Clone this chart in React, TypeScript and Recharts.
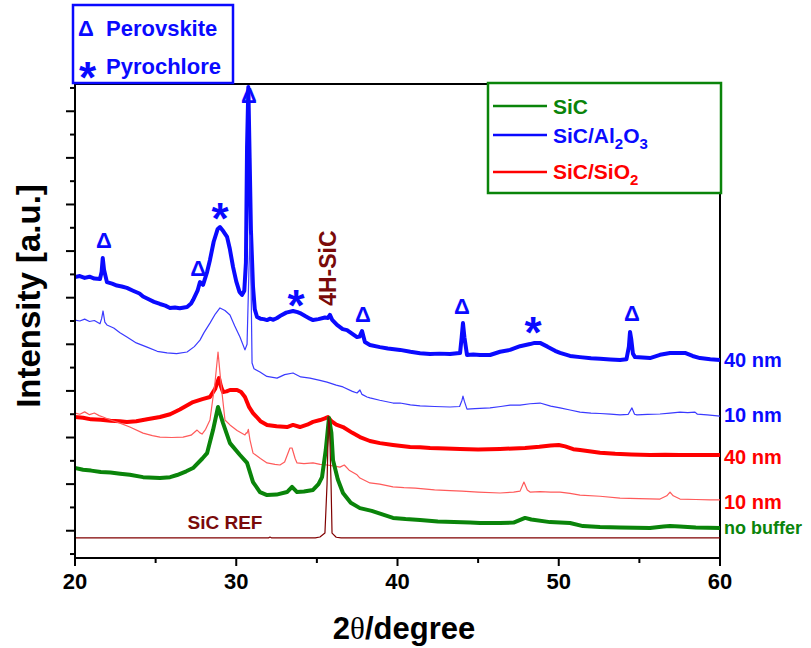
import React from "react";
import { LineChart, Line, XAxis, YAxis, ReferenceDot, ReferenceArea } from "recharts";

type Pt = [number, number];

// 2θ (degree) vs intensity (a.u., stacked offsets)
const AL2O3_40NM: Pt[] = [
  [20.0, 11.89], [20.3, 11.93], [20.6, 11.85], [20.9, 11.9], [21.2, 11.82], [21.55, 11.8], [21.65, 12.1],
  [21.72, 12.7], [21.8, 12.2], [21.98, 11.67], [22.3, 11.6], [22.6, 11.52], [22.9, 11.48], [23.22, 11.42],
  [23.6, 11.3], [24.0, 11.18], [24.22, 11.05], [24.6, 10.92], [24.9, 10.82], [25.27, 10.73], [25.6, 10.66],
  [25.89, 10.56], [26.2, 10.58], [26.5, 10.55], [26.95, 10.6], [27.2, 10.75], [27.32, 10.9], [27.6, 11.3],
  [27.75, 11.67], [27.85, 11.62], [27.94, 11.55], [28.19, 12.1], [28.37, 12.62], [28.6, 13.4], [28.85, 13.95],
  [28.99, 14.03], [29.2, 13.85], [29.43, 13.61], [29.6, 13.1], [29.8, 12.32], [30.0, 11.7], [30.2, 11.25],
  [30.36, 11.12], [30.5, 11.3], [30.6, 12.5], [30.67, 17.47], [30.75, 20.04], [30.83, 17.0], [30.91, 13.91],
  [31.04, 11.46], [31.15, 10.5], [31.29, 10.17], [31.5, 10.1], [31.7, 10.08], [31.91, 10.04], [32.1, 10.1],
  [32.3, 10.05], [32.53, 10.13], [32.8, 10.25], [33.1, 10.36], [33.52, 10.43], [33.8, 10.38], [33.95, 10.34],
  [34.3, 10.2], [34.57, 10.1], [34.76, 10.04], [35.1, 10.08], [35.5, 10.15], [35.69, 10.13], [35.81, 10.26],
  [35.95, 10.05], [36.25, 9.83], [36.6, 9.65], [36.87, 9.61], [37.2, 9.45], [37.49, 9.31], [37.65, 9.33],
  [37.8, 9.57], [37.9, 9.3], [37.98, 9.1], [38.29, 8.97], [38.91, 8.88], [39.4, 8.82], [40.16, 8.76],
  [40.8, 8.68], [41.4, 8.62], [42.02, 8.58], [42.6, 8.6], [43.26, 8.58], [43.7, 8.62], [43.88, 8.63],
  [43.98, 9.3], [44.06, 9.91], [44.15, 9.3], [44.31, 8.54], [44.7, 8.56], [45.12, 8.54], [45.74, 8.54],
  [46.36, 8.68], [46.98, 8.76], [47.6, 8.92], [48.22, 9.01], [48.5, 9.06], [48.84, 9.06], [49.3, 8.9],
  [49.77, 8.72], [50.08, 8.63], [50.7, 8.5], [51.32, 8.45], [52.0, 8.4], [52.56, 8.38], [53.2, 8.35],
  [53.8, 8.33], [54.2, 8.36], [54.35, 8.9], [54.42, 9.53], [54.5, 9.2], [54.6, 8.6], [54.73, 8.45],
  [55.2, 8.43], [55.66, 8.41], [56.28, 8.55], [56.9, 8.63], [57.52, 8.63], [57.83, 8.63], [58.3, 8.5],
  [58.76, 8.41], [59.4, 8.36], [60.0, 8.33],
];

const AL2O3_10NM: Pt[] = [
  [20.0, 10.04], [20.3, 10.0], [20.6, 10.08], [20.9, 9.98], [21.2, 10.02], [21.55, 9.88], [21.65, 10.1],
  [21.74, 10.43], [21.85, 9.95], [21.98, 9.83], [22.4, 9.7], [22.79, 9.5], [23.22, 9.31], [23.8, 9.06],
  [24.47, 8.88], [25.1, 8.7], [25.71, 8.63], [26.3, 8.6], [26.95, 8.67], [27.4, 8.9], [27.75, 9.18],
  [28.0, 9.5], [28.37, 9.91], [28.7, 10.3], [28.99, 10.56], [29.3, 10.45], [29.61, 10.26], [29.9, 9.8],
  [30.23, 9.31], [30.54, 8.76], [30.67, 9.0], [30.78, 12.0], [30.85, 13.69], [30.92, 11.5], [30.98, 8.2],
  [31.1, 7.95], [31.47, 7.81], [31.9, 7.62], [32.53, 7.55], [33.0, 7.7], [33.52, 7.77], [34.0, 7.6],
  [34.57, 7.55], [35.19, 7.45], [35.63, 7.38], [36.2, 7.25], [36.62, 7.17], [37.2, 6.98], [37.49, 6.91],
  [37.67, 7.04], [37.8, 6.85], [38.11, 6.74], [38.29, 6.7], [38.9, 6.6], [39.72, 6.48], [40.16, 6.48],
  [40.8, 6.4], [41.4, 6.36], [42.3, 6.33], [43.26, 6.31], [43.85, 6.33], [44.0, 6.6], [44.06, 6.78],
  [44.15, 6.55], [44.31, 6.22], [44.8, 6.24], [45.74, 6.27], [46.4, 6.33], [47.0, 6.39], [47.6, 6.39],
  [48.22, 6.45], [48.84, 6.48], [49.5, 6.35], [50.08, 6.27], [50.7, 6.18], [51.32, 6.09], [52.0, 6.05],
  [52.56, 6.03], [53.2, 6.0], [53.8, 5.97], [54.3, 5.99], [54.54, 6.27], [54.7, 6.0], [54.85, 5.97],
  [55.5, 5.99], [56.28, 6.01], [56.9, 6.05], [57.52, 6.09], [58.0, 6.07], [58.45, 6.09], [58.6, 6.0],
  [59.2, 5.97], [60.0, 5.92],
];

const SIO2_40NM: Pt[] = [
  [20.0, 5.88], [20.5, 5.85], [21.0, 5.78], [21.6, 5.76], [22.2, 5.72], [22.79, 5.7], [23.22, 5.67],
  [23.8, 5.7], [24.47, 5.78], [25.27, 5.88], [25.9, 6.0], [26.5, 6.2], [27.32, 6.52], [27.9, 6.65],
  [28.37, 6.74], [28.7, 7.1], [28.81, 7.34], [28.93, 7.55], [29.05, 7.2], [29.18, 6.95], [29.4, 6.98],
  [29.61, 7.04], [30.05, 7.04], [30.3, 6.95], [30.54, 6.74], [30.8, 6.3], [31.04, 6.05], [31.5, 5.7],
  [31.91, 5.54], [32.5, 5.48], [33.15, 5.45], [33.52, 5.54], [33.95, 5.45], [34.4, 5.55], [34.76, 5.67],
  [35.2, 5.75], [35.5, 5.82], [35.69, 5.88], [35.9, 5.7], [36.2, 5.55], [36.62, 5.45], [37.2, 5.2],
  [37.67, 5.02], [38.29, 4.85], [38.91, 4.76], [39.72, 4.68], [40.78, 4.59], [41.4, 4.58], [42.02, 4.55],
  [43.0, 4.53], [43.88, 4.51], [45.0, 4.49], [46.36, 4.51], [47.2, 4.53], [47.91, 4.55], [48.8, 4.6],
  [49.5, 4.66], [50.0, 4.68], [50.4, 4.62], [50.9, 4.5], [51.32, 4.46], [52.0, 4.4], [52.56, 4.35],
  [53.5, 4.3], [54.5, 4.27], [55.66, 4.25], [56.6, 4.26], [57.5, 4.25], [58.5, 4.25], [60.0, 4.25],
];

const SIO2_10NM: Pt[] = [
  [20.0, 6.05], [20.3, 6.0], [20.6, 6.1], [20.9, 5.98], [21.2, 6.05], [21.5, 5.94], [21.74, 5.88],
  [22.2, 5.75], [22.79, 5.62], [23.4, 5.45], [24.22, 5.19], [24.8, 5.08], [25.27, 5.02], [26.0, 5.0],
  [26.7, 5.02], [27.2, 5.1], [27.57, 5.32], [27.75, 5.2], [27.88, 5.15], [28.1, 5.35], [28.37, 5.75],
  [28.68, 7.34], [28.87, 8.67], [29.05, 7.34], [29.3, 5.75], [29.61, 5.54], [30.05, 5.3], [30.54, 5.11],
  [30.62, 5.2], [30.67, 5.19], [30.75, 5.35], [30.85, 4.9], [31.04, 4.33], [31.5, 4.1], [31.91, 3.91],
  [32.4, 3.85], [32.71, 3.82], [33.0, 3.95], [33.33, 4.55], [33.46, 4.55], [33.65, 4.1], [33.77, 3.91],
  [34.2, 3.88], [34.76, 3.91], [35.2, 3.85], [35.63, 3.82], [36.0, 3.78], [36.43, 3.73], [36.7, 3.82],
  [37.0, 3.6], [37.49, 3.4], [37.67, 3.26], [38.29, 3.05], [38.9, 3.0], [39.72, 2.88], [40.4, 2.85],
  [41.1, 2.83], [42.3, 2.75], [43.26, 2.72], [44.0, 2.7], [45.0, 2.66], [46.36, 2.62], [47.2, 2.66],
  [47.6, 2.7], [47.84, 3.09], [48.05, 2.75], [48.22, 2.66], [48.84, 2.68], [49.5, 2.66], [50.08, 2.66],
  [50.7, 2.6], [51.32, 2.53], [52.56, 2.48], [53.8, 2.4], [55.0, 2.38], [56.28, 2.36], [56.7, 2.5],
  [56.9, 2.66], [57.1, 2.5], [57.52, 2.36], [58.5, 2.34], [59.4, 2.32], [60.0, 2.32],
];

const SIC_NO_BUFFER: Pt[] = [
  [20.0, 3.69], [20.5, 3.62], [21.0, 3.58], [21.6, 3.52], [22.2, 3.5], [22.8, 3.45], [23.4, 3.4],
  [24.22, 3.3], [25.27, 3.26], [25.9, 3.3], [26.33, 3.39], [26.9, 3.55], [27.32, 3.69], [27.9, 4.1],
  [28.19, 4.33], [28.56, 5.32], [28.87, 6.31], [29.18, 5.62], [29.61, 4.76], [30.23, 4.25], [30.67, 3.91],
  [31.04, 3.09], [31.47, 2.66], [31.91, 2.53], [32.5, 2.55], [33.15, 2.66], [33.46, 2.88], [33.77, 2.66],
  [34.2, 2.68], [34.76, 2.75], [35.1, 3.0], [35.32, 3.3], [35.55, 4.46], [35.75, 5.84], [35.9, 5.2],
  [36.0, 4.03], [36.3, 3.2], [36.62, 2.62], [37.1, 2.2], [37.67, 1.97], [38.4, 1.85], [39.72, 1.55],
  [40.5, 1.5], [41.4, 1.46], [42.5, 1.4], [43.5, 1.37], [44.5, 1.35], [45.12, 1.33], [46.36, 1.33],
  [47.2, 1.35], [47.91, 1.55], [48.3, 1.48], [49.46, 1.37], [50.7, 1.33], [51.5, 1.2], [52.56, 1.16],
  [53.8, 1.14], [55.66, 1.12], [56.5, 1.18], [56.9, 1.2], [57.5, 1.18], [58.5, 1.14], [60.0, 1.12],
];

const SIC_REF: Pt[] = [
  [20.0, 0.69], [32.0, 0.69], [32.09, 0.73], [32.2, 0.69], [34.9, 0.69], [35.19, 0.73], [35.5, 0.9],
  [35.63, 3.0], [35.72, 5.88], [35.78, 5.6], [35.88, 3.0], [35.94, 0.9], [36.2, 0.72], [36.5, 0.69],
  [60.0, 0.69],
];

const X_TICKS = [20, 25, 30, 35, 40, 45, 50, 55, 60];
const Y_TICKS = [0, 1, 2, 3, 4, 5, 6, 7, 8, 9, 10, 11, 12, 13, 14, 15, 16, 17, 18, 19, 20];
const Y_DOMAIN: [number, number] = [-0.17, 20.17];

// phase markers: Δ perovskite, * pyrochlore
const PEAK_MARKS = [
  { x: 21.8, y: 13.48, sym: "Δ" },
  { x: 27.63, y: 12.27, sym: "Δ" },
  { x: 30.79, y: 19.7, sym: "Δ" },
  { x: 37.86, y: 10.3, sym: "Δ" },
  { x: 44.0, y: 10.64, sym: "Δ" },
  { x: 54.54, y: 10.34, sym: "Δ" },
  { x: 28.99, y: 14.85, sym: "*" },
  { x: 33.71, y: 11.12, sym: "*" },
  { x: 48.4, y: 9.96, sym: "*" },
];

const FONT = '"Liberation Sans", Arial, sans-serif';
const BLUE = "#0a0aff";
const RED = "#ff0000";
const GREEN = "#0a840a";
const DARK_RED = "#800000";

const toRows = (pts: Pt[]) => pts.map(([x, y]) => ({ x, y }));

const SERIES = [
  { key: "sio2-40", data: toRows(SIO2_40NM), color: RED, width: 4 },
  { key: "sio2-10", data: toRows(SIO2_10NM), color: "#ff5a5a", width: 1.2 },
  { key: "sic", data: toRows(SIC_NO_BUFFER), color: GREEN, width: 4 },
  { key: "al2o3-40", data: toRows(AL2O3_40NM), color: BLUE, width: 4 },
  { key: "al2o3-10", data: toRows(AL2O3_10NM), color: "#3a3aff", width: 1.2 },
  { key: "ref", data: toRows(SIC_REF), color: DARK_RED, width: 1.2 },
];

function XTick(props: any) {
  const { x, y, payload } = props;
  const major = payload.value % 10 === 0;
  return (
    <g>
      <line x1={x} x2={x} y1={y} y2={y + (major ? 8 : 5)} stroke="#000" strokeWidth={2} />
      {major && (
        <text x={x} y={y + 31} textAnchor="middle" fontSize={22} fontWeight="bold" fontFamily={FONT} fill="#000">
          {payload.value}
        </text>
      )}
    </g>
  );
}

function YTick(props: any) {
  const { x, y, payload } = props;
  const major = payload.value % 2 === 1;
  return <line x1={x - (major ? 9 : 5)} x2={x} y1={y} y2={y} stroke="#000" strokeWidth={2} />;
}

function markShape(sym: string) {
  return (p: any) =>
    sym === "*" ? (
      <text x={p.cx} y={p.cy + 26} textAnchor="middle" fontSize={44} fontWeight="bold" fontFamily={FONT} fill={BLUE}>
        *
      </text>
    ) : (
      <text x={p.cx} y={p.cy + 8} textAnchor="middle" fontSize={22} fontWeight="bold" fontFamily={FONT} fill={BLUE}>
        Δ
      </text>
    );
}

export default function App() {
  return (
    <div style={{ position: "absolute", left: 0, top: 0, width: 811, height: 648, background: "#fff" }}>
      <LineChart width={811} height={648} margin={{ top: 84, right: 91, bottom: 50, left: 65 }}>
        <XAxis
          dataKey="x"
          type="number"
          domain={[20, 60]}
          ticks={X_TICKS}
          interval={0}
          allowDataOverflow
          height={40}
          tickSize={0}
          tickMargin={0}
          tickLine={false}
          tick={<XTick />}
          axisLine={{ stroke: "#000", strokeWidth: 2 }}
        />
        <YAxis
          type="number"
          domain={Y_DOMAIN}
          ticks={Y_TICKS}
          interval={0}
          allowDataOverflow
          width={10}
          tickSize={0}
          tickMargin={0}
          tickLine={false}
          tick={<YTick />}
          axisLine={{ stroke: "#000", strokeWidth: 2 }}
        />
        {SERIES.map((s) => (
          <Line
            key={s.key}
            data={s.data}
            dataKey="y"
            type="linear"
            stroke={s.color}
            strokeWidth={s.width}
            strokeLinejoin="round"
            dot={false}
            activeDot={false}
            isAnimationActive={false}
          />
        ))}
        <ReferenceArea x1={20} x2={60} y1={Y_DOMAIN[0]} y2={Y_DOMAIN[1]} fill="none" stroke="#000" strokeWidth={2} fillOpacity={0} />
        {PEAK_MARKS.map((m, i) => (
          <ReferenceDot key={i} x={m.x} y={m.y} r={0} shape={markShape(m.sym)} />
        ))}
        <ReferenceDot
          x={35.69}
          y={12.27}
          r={0}
          shape={(p: any) => (
            <text
              x={p.cx}
              y={p.cy + 8}
              transform={`rotate(-90 ${p.cx} ${p.cy})`}
              textAnchor="middle"
              fontSize={23}
              fontWeight="bold"
              fontFamily={FONT}
              fill="#7a0a0a"
            >
              4H-SiC
            </text>
          )}
        />
        <ReferenceDot
          x={29.3}
          y={1.37}
          r={0}
          shape={(p: any) => (
            <text x={p.cx} y={p.cy + 7} textAnchor="middle" fontSize={19} fontWeight="bold" fontFamily={FONT} fill="#7a0a0a">
              SiC REF
            </text>
          )}
        />
      </LineChart>

      <svg
        width={811}
        height={648}
        style={{ position: "absolute", left: 0, top: 0, pointerEvents: "none" }}
        fontFamily={FONT}
      >
        {/* phase key */}
        <rect x={73} y={5} width={160} height={78} fill="#fff" stroke={BLUE} strokeWidth={2.5} />
        <text x={78} y={36} fontSize={22} fontWeight="bold" fill={BLUE}>Δ</text>
        <text x={106} y={36} fontSize={22} fontWeight="bold" fill={BLUE}>Perovskite</text>
        <text x={79} y={93} fontSize={44} fontWeight="bold" fill={BLUE}>*</text>
        <text x={106} y={74} fontSize={22} fontWeight="bold" fill={BLUE}>Pyrochlore</text>

        {/* series legend */}
        <rect x={488} y={83} width={233} height={110} fill="#fff" stroke={GREEN} strokeWidth={2.5} />
        <line x1={493} x2={547} y1={106} y2={106} stroke={GREEN} strokeWidth={2.5} />
        <text x={553} y={114} fontSize={21} fontWeight="bold" fill={GREEN}>SiC</text>
        <line x1={493} x2={547} y1={135} y2={135} stroke={BLUE} strokeWidth={2.5} />
        <text x={553} y={143} fontSize={21} fontWeight="bold" fill={BLUE}>
          SiC/Al<tspan fontSize={15} dy={6}>2</tspan>
          <tspan dy={-6}>O</tspan>
          <tspan fontSize={15} dy={6}>3</tspan>
        </text>
        <line x1={493} x2={547} y1={172} y2={172} stroke={RED} strokeWidth={2.5} />
        <text x={553} y={179} fontSize={21} fontWeight="bold" fill={RED}>
          SiC/SiO<tspan fontSize={15} dy={6}>2</tspan>
        </text>

        {/* thickness labels */}
        <text x={724} y={367} fontSize={20} fontWeight="bold" fill={BLUE}>40 nm</text>
        <text x={724} y={422} fontSize={20} fontWeight="bold" fill={BLUE}>10 nm</text>
        <text x={724} y={464} fontSize={20} fontWeight="bold" fill={RED}>40 nm</text>
        <text x={724} y={509} fontSize={20} fontWeight="bold" fill={RED}>10 nm</text>
        <text x={724} y={534} fontSize={18} fontWeight="bold" fill={GREEN}>no buffer</text>

        {/* axis titles */}
        <text x={404} y={639} textAnchor="middle" fontSize={31} fontWeight="bold" fill="#000">
          2<tspan fontFamily='"Liberation Serif", serif' fontWeight="normal">θ</tspan>/degree
        </text>
        <text
          x={0}
          y={0}
          transform="translate(40 296) rotate(-90)"
          textAnchor="middle"
          fontSize={33}
          fontWeight="bold"
          fill="#000"
        >
          Intensity [a.u.]
        </text>
      </svg>
    </div>
  );
}
